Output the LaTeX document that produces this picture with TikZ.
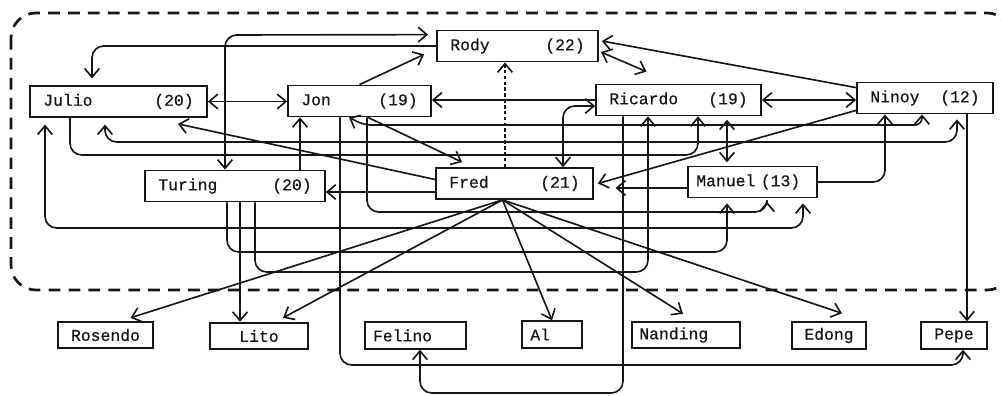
\documentclass[tikz,border=0pt]{standalone}
\usepackage{fontspec}
\setmonofont{Liberation Mono}[FakeBold=0.6]
\usetikzlibrary{arrows.meta, calc}
\definecolor{cink}{HTML}{161616}
\tikzset{
  every picture/.style={line width=1.4pt, color=cink},
  member/.style={draw, line width=1.5pt, minimum height=0.93cm, inner ysep=0pt, inner xsep=0.4cm, font=\ttfamily\fontsize{14}{16}\selectfont},
  leaf/.style={draw, line width=1.5pt, minimum height=0.8cm, inner ysep=0pt, font=\ttfamily\fontsize{14}{16}\selectfont},
  arrow/.style={-{Straight Barb[length=2.6mm, width=4.4mm]}, rounded corners=10pt},
  twoway/.style={{Straight Barb[length=2.6mm, width=4.4mm]}-{Straight Barb[length=2.6mm, width=4.4mm]}, rounded corners=10pt},
  border/.style={line width=2.3pt, dash pattern=on 10pt off 7pt, rounded corners=0.75cm},
}

\begin{document}
\begin{tikzpicture}[x=0.03cm, y=-0.03cm]
  \useasboundingbox (0,0) rectangle (1002,396);
  \draw[border] (11,13) rectangle (1012,290);
  \node[member, text width=4.03cm] (rody) at (517.5,46) {Rody\hfill(22)};
  \node[member, text width=4.51cm] (julio) at (118.5,101.5) {Julio\hfill(20)};
  \node[member, text width=3.49cm] (jon) at (359.5,101) {Jon\hfill(19)};
  \node[member, text width=4.15cm] (ricardo) at (678.5,100) {Ricardo\hfill(19)};
  \node[member, text width=3.28cm] (ninoy) at (925,98) {Ninoy\hfill(12)};
  \node[member, text width=4.6cm] (turing) at (235,186) {Turing\hfill(20)};
  \node[member, text width=3.91cm] (fred) at (514.5,183.5) {Fred\hfill(21)};
  \node[member, text width=3.37cm, inner xsep=0.25cm] (manuel) at (752.5,182) {Manuel (13)};
  \node[leaf, minimum width=2.85cm] (rosendo) at (105.5,335) {Rosendo};
  \node[leaf, minimum width=2.94cm] (lito) at (259,336) {Lito};
  \node[leaf, minimum width=3.03cm, text width=2.55cm] (felino) at (415.5,335.5) {Felino};
  \node[leaf, minimum width=1.8cm, text width=1.3cm] (al) at (552,334.5) {Al};
  \node[leaf, minimum width=3.24cm, text width=2.8cm] (nanding) at (686,335) {Nanding};
  \node[leaf, minimum width=2.22cm] (edong) at (829,335.5) {Edong};
  \node[leaf, minimum width=1.98cm] (pepe) at (954,335.5) {Pepe};
  \coordinate (fanout) at ($(fred.south)+(-12,0)$);

  \draw[twoway] (julio.east) -- (julio.east -| jon.west);
  \draw[arrow] (ricardo.west) -- (ricardo.west -| jon.east);
  \draw[twoway] (ricardo.east) -- (ricardo.east -| ninoy.west);
  \draw[arrow] (jon.north) -- ($(rody.south west)+(-12,-8)$);
  \draw[twoway] (turing.north -| 225,0) -- (225,35) -- ($(rody.north west)+(-8,5)$);
  \draw[arrow, shorten >=0.2cm] (rody.west) -| (julio.north -| 92,0);
  \draw[twoway] ($(rody.east)+(2,6)$) -- ($(ricardo.north)+(-32,-12)$);
  \draw[arrow] ($(ninoy.north west)+(0,6)$) -- ($(rody.east)+(3,-5)$);
  \draw[arrow, densely dashed] (fred.north -| 505,0) -- (rody.south -| 505,0);
  \draw[arrow] ($(fred.west)+(0,-4)$) -- ($(julio.south east)+(-30,6)$);
  \draw[arrow] ($(jon.south east)+(-64,0)$) -- ($(fred.north west)+(27,-5)$);
  \draw[arrow] (turing.north -| 300,0) -- (jon.south -| 300,0);
  \draw[arrow] (fred.west |- 0,192) -- (turing.east |- 0,192);
  \draw[arrow] ($(ninoy.south west)+(0,-4)$) -- ($(fred.east)+(4,0)$);
  \draw[arrow, shorten >=0.65cm] (manuel.west |- 0,188) -- (fred.east |- 0,188);
  \draw[twoway] ($(ricardo.west)+(0,6)$) -- (563,106) -- (fred.north -| 563,0);
  \draw[twoway, shorten <=0.1cm, shorten >=0.1cm] (ricardo.south -| 727,0) -- (manuel.north -| 727,0);
  \draw[arrow] (manuel.east) -- (885,182) -- (ninoy.south -| 885,0);
  \draw[twoway, rounded corners=6pt] (jon.south -| 349,0) -- (364,125) -- (922,125) -- (ninoy.south -| 922,0);
  \draw[twoway, shorten <=0.2cm, shorten >=0.15cm] (julio.south -| 105,0) -- (105,142) -- (957,142) -- (ninoy.south -| 957,0);
  \draw[arrow] (julio.south -| 70,0) -- (70,155) -- (698,155) -- (ricardo.south -| 698,0);
  \draw[twoway, shorten <=0.2cm, shorten >=0.15cm] (julio.south -| 45,0) -- (45,228) -- (803,228) -- (manuel.south -| 803,0);
  \draw[arrow, shorten >=0.1cm] (jon.south -| 367,0) -- (367,212) -- (767,212) -- (manuel.south -| 767,0);
  \draw[arrow, shorten >=0.15cm] (turing.south -| 227,0) -- (227,252) -- (727,252) -- (manuel.south -| 727,0);
  \draw[arrow] (turing.south -| 255,0) -- (255,272) -- (648,272) -- (ricardo.south -| 648,0);
  \draw[arrow] (turing.south -| 240,0) -- (lito.north -| 240,0);
  \draw[arrow] (jon.south -| 340,0) -- (340,365) -- (963,365) -- (pepe.south -| 963,0);
  \draw[arrow] (ricardo.south -| 623,0) -- (623,393) -- (420,393) -- (felino.south -| 420,0);
  \draw[arrow] (ninoy.south -| 967,0) -- (pepe.north -| 967,0);
  \draw[arrow] (fanout) -- ($(rosendo.north)+(25,-3)$);
  \draw[arrow] (fanout) -- ($(lito.north)+(24,-4)$);
  \draw[arrow] (fanout) -- (al.north);
  \draw[arrow] (fanout) -- ($(nanding.north)+(-3,-7)$);
  \draw[arrow] (fanout) -- ($(edong.north)+(13,-8)$);
\end{tikzpicture}
\end{document}
